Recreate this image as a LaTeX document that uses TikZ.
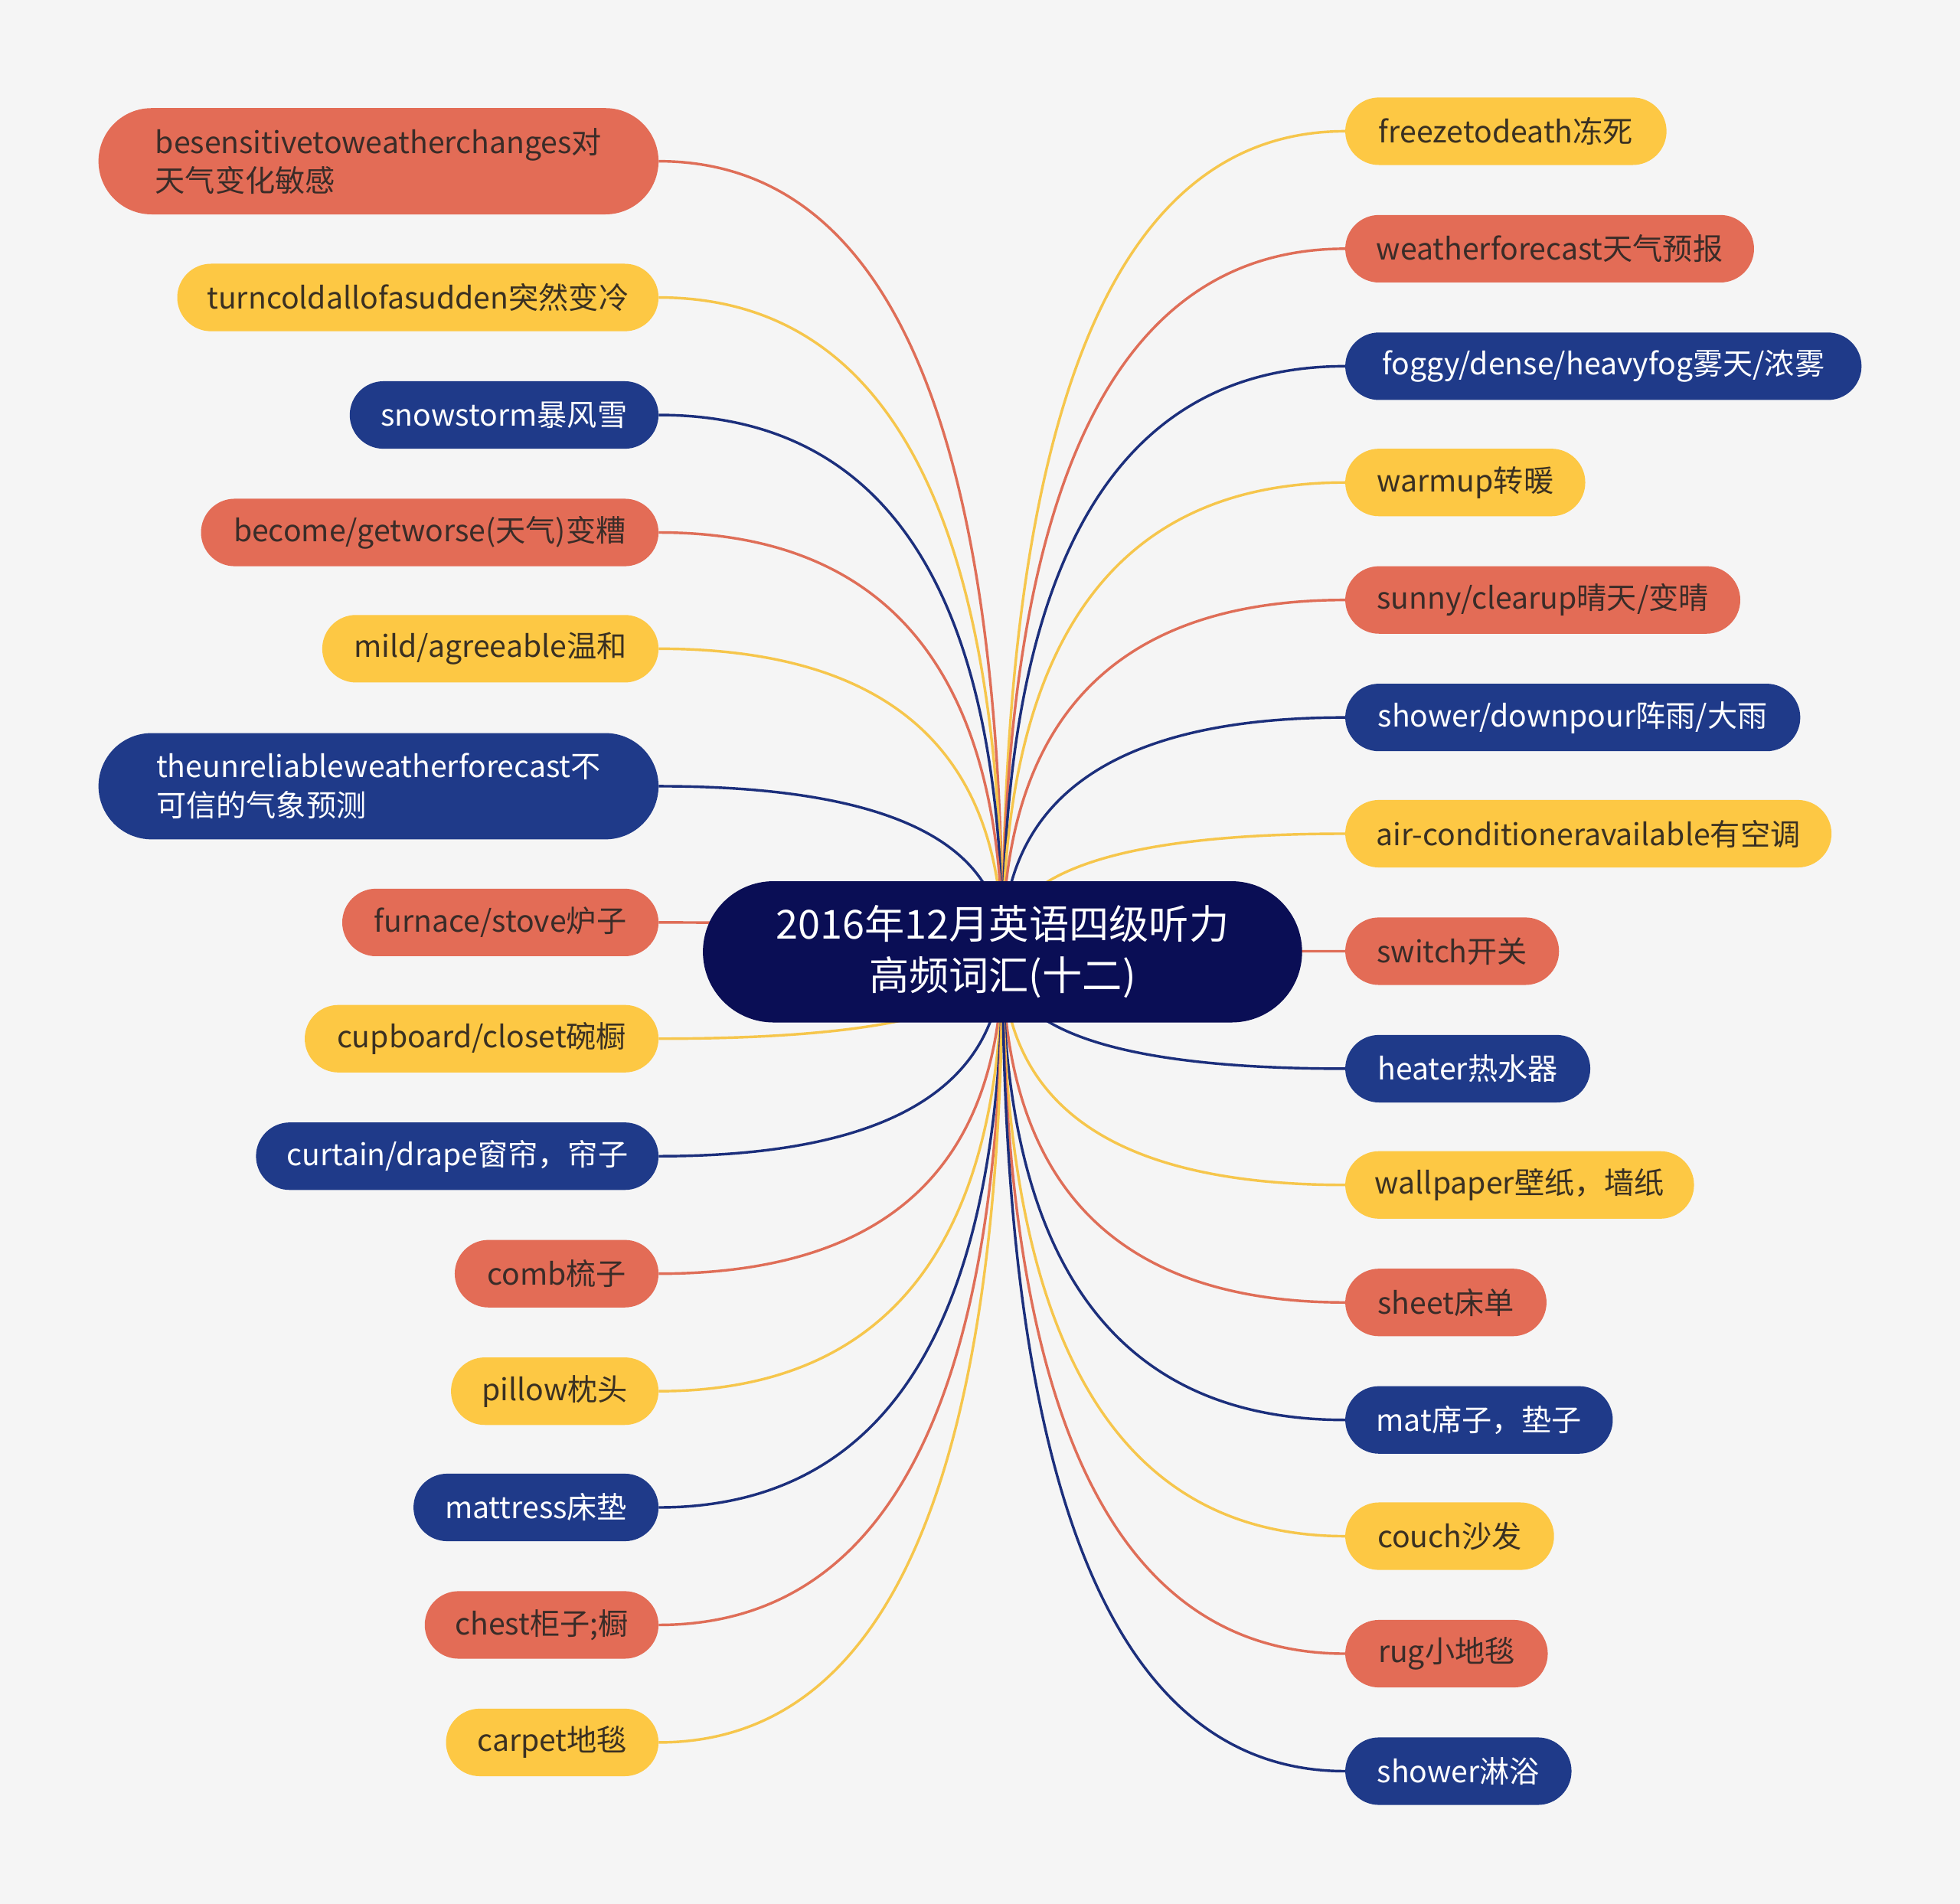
\documentclass[tikz,border=0pt]{standalone}
\usepackage{fontspec}
\newfontfamily\cjk{Noto Sans CJK SC}
\usetikzlibrary{shapes.misc,calc,backgrounds}
\definecolor{bgc}{HTML}{F5F5F5}
\definecolor{cO}{HTML}{E36C56}
\definecolor{cY}{HTML}{FDC844}
\definecolor{cN}{HTML}{1F3A89}
\definecolor{cR}{HTML}{0A0E55}
\definecolor{tO}{HTML}{3A2C28}
\definecolor{tY}{HTML}{3A3022}
\definecolor{lO}{HTML}{DF6E58}
\definecolor{lY}{HTML}{F6C64C}
\definecolor{lN}{HTML}{1C2F7C}
\newcommand\linkit[2]{%
  \draw[#1] (root.center) .. controls ($(root.center)!0.6667!(root.center |- #2)$) and ($(#2)!0.6667!(root.center |- #2)$) .. (#2);}
\begin{document}
\begin{tikzpicture}[x=1pt,y=-1pt,
  base/.style={rounded rectangle, minimum height=54pt, inner xsep=8pt, inner ysep=0pt,
    font=\cjk\fontsize{24}{31}\selectfont},
  nO/.style={base, fill=cO, text=tO},
  nY/.style={base, fill=cY, text=tY},
  nN/.style={base, fill=cN, text=white},
  two/.style={minimum height=85pt, align=left},
  lnO/.style={draw=lO, line width=2.1pt},
  lnY/.style={draw=lY, line width=2.1pt},
  lnN/.style={draw=lN, line width=2.1pt},
  lt/.style={anchor=east},
  rt/.style={anchor=west}]
\useasboundingbox (0,0) rectangle (1568,1523);
% root
\node[rounded rectangle, fill=cR, text=white, minimum width=486pt, minimum height=113pt,
  align=center, font=\cjk\fontsize{32}{41}\selectfont] (root) at (802,761.5)
  {2016年12月英语四级听力\\高频词汇(十二)};
% left nodes
\node[nO,two,lt,minimum width=464pt] (L1) at (527,129) {besensitivetoweatherchanges对\\天气变化敏感};
\node[nY,lt,minimum width=401pt] (L2) at (527,238) {turncoldallofasudden突然变冷};
\node[nN,lt,minimum width=263pt] (L3) at (527,332) {snowstorm暴风雪};
\node[nO,lt,minimum width=382pt] (L4) at (527,426) {become/getworse(天气)变糟};
\node[nY,lt,minimum width=285pt] (L5) at (527,519) {mild/agreeable温和};
\node[nN,two,lt,minimum width=464pt] (L6) at (527,629) {theunreliableweatherforecast不\\可信的气象预测};
\node[nO,lt,minimum width=269pt] (L7) at (527,738) {furnace/stove炉子};
\node[nY,lt,minimum width=299pt] (L8) at (527,831) {cupboard/closet碗橱};
\node[nN,lt,minimum width=338pt] (L9) at (527,925) {curtain/drape窗帘，帘子};
\node[nO,lt,minimum width=179pt] (L10) at (527,1019) {comb梳子};
\node[nY,lt,minimum width=182pt] (L11) at (527,1113) {pillow枕头};
\node[nN,lt,minimum width=212pt] (L12) at (527,1206) {mattress床垫};
\node[nO,lt,minimum width=203pt] (L13) at (527,1300) {chest柜子;橱};
\node[nY,lt,minimum width=186pt] (L14) at (527,1394) {carpet地毯};
% right nodes
\node[nY,rt,minimum width=273pt] (R1) at (1076,105) {freezetodeath冻死};
\node[nO,rt,minimum width=343pt] (R2) at (1076,199) {weatherforecast天气预报};
\node[nN,rt,minimum width=429pt] (R3) at (1076,293) {foggy/dense/heavyfog雾天/浓雾};
\node[nY,rt,minimum width=208pt] (R4) at (1076,386) {warmup转暖};
\node[nO,rt,minimum width=332pt] (R5) at (1076,480) {sunny/clearup晴天/变晴};
\node[nN,rt,minimum width=380pt] (R6) at (1076,574) {shower/downpour阵雨/大雨};
\node[nY,rt,minimum width=405pt] (R7) at (1076,667) {air-conditioneravailable有空调};
\node[nO,rt,minimum width=187pt] (R8) at (1076,761) {switch开关};
\node[nN,rt,minimum width=212pt] (R9) at (1076,855) {heater热水器};
\node[nY,rt,minimum width=295pt] (R10) at (1076,948) {wallpaper壁纸，墙纸};
\node[nO,rt,minimum width=177pt] (R11) at (1076,1042) {sheet床单};
\node[nN,rt,minimum width=230pt] (R12) at (1076,1136) {mat席子，垫子};
\node[nY,rt,minimum width=183pt] (R13) at (1076,1229) {couch沙发};
\node[nO,rt,minimum width=178pt] (R14) at (1076,1323) {rug小地毯};
\node[nN,rt,minimum width=197pt] (R15) at (1076,1417) {shower淋浴};
\begin{pgfonlayer}{background}
\fill[bgc] (0,0) rectangle (1568,1523);
\linkit{lnO}{L1.east}
\linkit{lnY}{L2.east}
\linkit{lnN}{L3.east}
\linkit{lnO}{L4.east}
\linkit{lnY}{L5.east}
\linkit{lnN}{L6.east}
\linkit{lnO}{L7.east}
\linkit{lnY}{L8.east}
\linkit{lnN}{L9.east}
\linkit{lnO}{L10.east}
\linkit{lnY}{L11.east}
\linkit{lnN}{L12.east}
\linkit{lnO}{L13.east}
\linkit{lnY}{L14.east}
\linkit{lnY}{R1.west}
\linkit{lnO}{R2.west}
\linkit{lnN}{R3.west}
\linkit{lnY}{R4.west}
\linkit{lnO}{R5.west}
\linkit{lnN}{R6.west}
\linkit{lnY}{R7.west}
\linkit{lnO}{R8.west}
\linkit{lnN}{R9.west}
\linkit{lnY}{R10.west}
\linkit{lnO}{R11.west}
\linkit{lnN}{R12.west}
\linkit{lnY}{R13.west}
\linkit{lnO}{R14.west}
\linkit{lnN}{R15.west}
\end{pgfonlayer}
\end{tikzpicture}
\end{document}
